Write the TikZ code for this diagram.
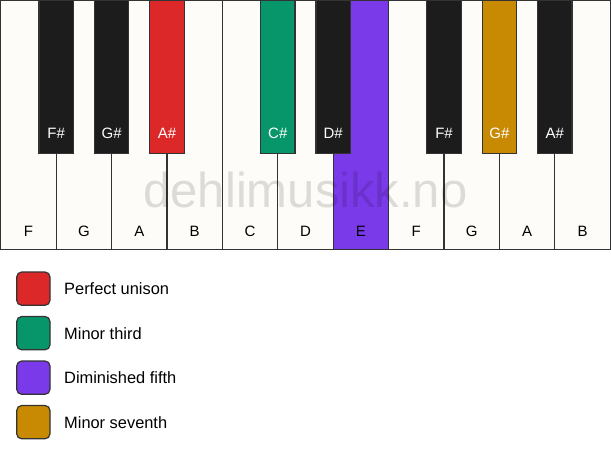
\documentclass[tikz,border=0pt]{standalone}
\usepackage{fontspec}
\setmainfont{Liberation Sans}
\usetikzlibrary{positioning}
\definecolor{keyivory}{HTML}{FDFCF9}
\definecolor{keyblack}{HTML}{1C1C1C}
\definecolor{keyline}{HTML}{333333}
\definecolor{unison}{HTML}{DC2828}
\definecolor{minthird}{HTML}{07966A}
\definecolor{dimfifth}{HTML}{7B3AEA}
\definecolor{minseventh}{HTML}{C98A03}

\begin{document}
\begin{tikzpicture}[x=1pt,y=-1pt,
    whitekey/.style={draw=keyline, line width=1.2pt, minimum width=55.4pt,
      minimum height=249pt, anchor=north west, inner sep=0pt, outer sep=0pt},
    blackkey/.style={draw=keyline, line width=1.2pt, minimum width=34.4pt,
      minimum height=153pt, anchor=north, inner sep=0pt, outer sep=0pt},
    keylabel/.style={font=\fontsize{15}{18}\selectfont, inner sep=0pt},
    swatch/.style={draw=keyline, line width=1.2pt, rounded corners=5pt,
      minimum size=33.3pt, anchor=north west, inner sep=0pt, outer sep=0pt},
    legendtext/.style={font=\fontsize{16.4}{19}\selectfont, anchor=west, inner sep=0pt},
    watermark/.style={font=\fontsize{49}{52}\selectfont, text=black,
      text opacity=0.13, anchor=base, inner sep=0pt}]
  \useasboundingbox (0,0) rectangle (611,461);
  % white keys
  \foreach \name/\col [count=\i from 0] in {F/keyivory, G/keyivory, A/keyivory,
      B/keyivory, C/keyivory, D/keyivory, E/dimfifth, F/keyivory, G/keyivory,
      A/keyivory, B/keyivory} {
    \node[whitekey, fill=\col] (w\i) at (0.8+\i*55.4, 0.6) {};
    \node[keylabel, above=13pt of w\i.south] (wl\i) {\name};
  }
  % black keys
  \foreach \j/\name/\col in {1/F\#/keyblack, 2/G\#/keyblack, 3/A\#/unison,
      5/C\#/minthird, 6/D\#/keyblack, 8/F\#/keyblack, 9/G\#/minseventh,
      10/A\#/keyblack} {
    \node[blackkey, fill=\col] (b\j) at (w\j.north west) {};
    \node[keylabel, text=white, above=15pt of b\j.south] (bl\j) {\name};
  }
  \node[watermark] (mark) at (305.5, 207.7) {dehlimusikk.no};
  % legend
  \foreach \col/\txt [count=\k from 0] in {unison/Perfect unison,
      minthird/Minor third, dimfifth/Diminished fifth, minseventh/Minor seventh} {
    \node[swatch, fill=\col] (s\k) at (16.7, 272+\k*44.5) {};
    \node[legendtext, right=14pt of s\k] (t\k) {\txt};
  }
\end{tikzpicture}
\end{document}
